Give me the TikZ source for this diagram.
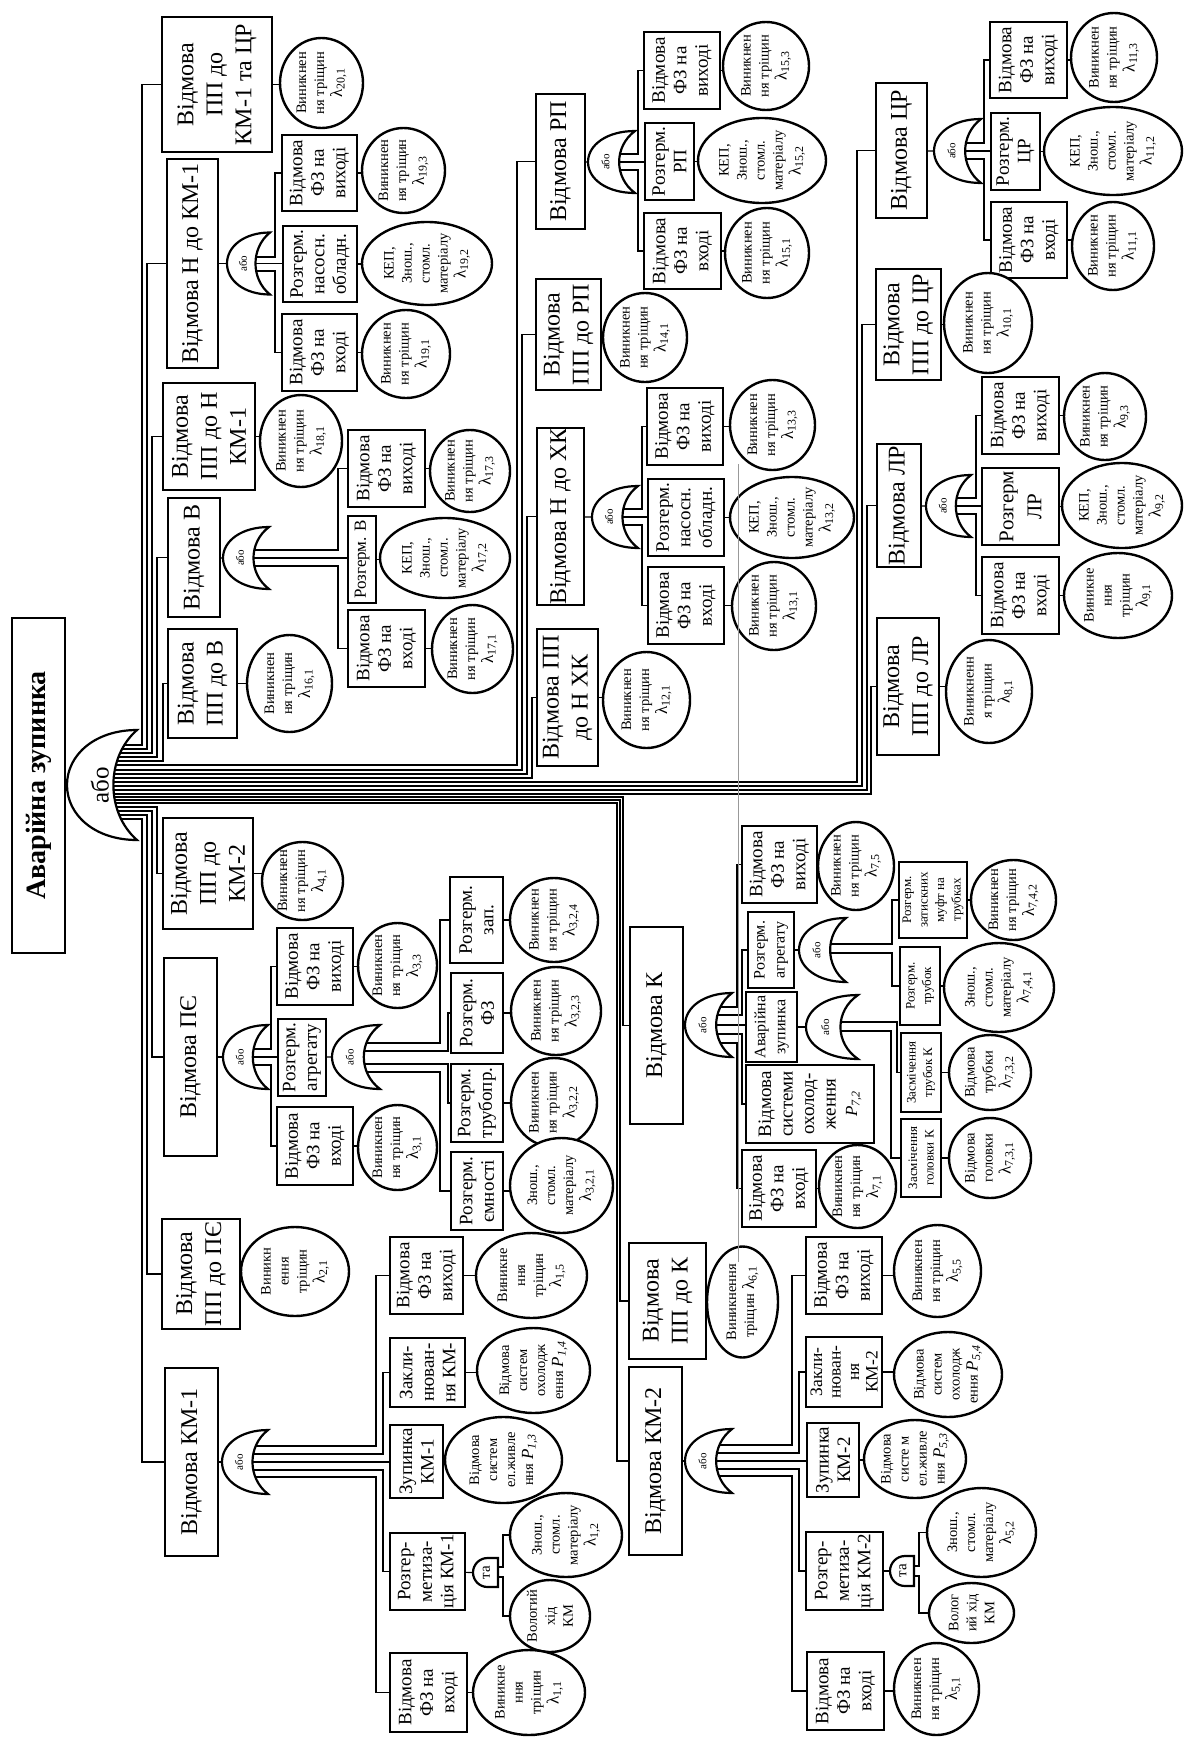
\documentclass[tikz,border=0pt]{standalone}
\usepackage{fontspec}
\setmainfont{Liberation Serif}
\usetikzlibrary{shapes.geometric,backgrounds}
\newcommand\fntRoot{\fontsize{28}{32}\selectfont\bfseries}
\newcommand\fntL{\fontsize{24}{29}\selectfont}
\newcommand\fntM{\fontsize{19}{21.5}\selectfont}
\newcommand\fntMB{\fontsize{17}{21.5}\selectfont}
\newcommand\fntMM{\fontsize{17.5}{18.5}\selectfont}
\newcommand\fntR{\fontsize{21}{28}\selectfont}
\newcommand\fntK{\fontsize{16}{20}\selectfont}
\newcommand\fntS{\fontsize{13}{16.5}\selectfont}
\newcommand\fntC{\fontsize{14.5}{18}\selectfont}
\newcommand\fntG{\fontsize{11}{12}\selectfont}
\newcommand\fntGR{\fontsize{25}{27}\selectfont}
\newcommand\fntT{\fontsize{15}{16}\selectfont}
\newcommand\lmb[1]{{\fontsize{17}{18}\selectfont λ\textsubscript{#1}}}
\newcommand\Pn[1]{{\fontsize{17}{18}\selectfont\textit{P}\textsubscript{\textit{#1}}}}
\tikzset{
 boxs/.style={rectangle, draw, line width=2.4pt, fill=white, inner sep=0pt, outer sep=0pt},
 ells/.style={ellipse, draw, line width=2.4pt, fill=white, inner sep=0pt, outer sep=0pt},
 txt/.style={rotate=90, align=center, inner sep=0pt},
 conn/.style={line width=1.2pt},
 gatest/.style={draw, fill=white, line width=2.2pt, line join=miter, miter limit=4},
 gtxt/.style={rotate=90, inner sep=0pt},
 scanline/.style={draw=black!40, line width=0.8pt}
}
\newcommand\mkBox[7]{%
 \node[boxs, minimum width={(#3-#2)*1pt}, minimum height={(#5-#4)*1pt}] (#1) at ({(#2+#3)/2},{(#4+#5)/2}) {};
 \node[txt, font=#6] (#1-t) at (#1.center) {#7};}
\newcommand\mkEl[7]{%
 \node[ells, minimum width={2*#4*1pt}, minimum height={2*#5*1pt}] (#1) at (#2,#3) {};
 \node[txt, font=#6] (#1-t) at (#1.center) {#7};}
\newcommand\mkOR[7]{%
 \path[gatest] ({#2+#4},{#3-#5}) .. controls ({#2+0.4*#4},{#3-#5}) and (#2,{#3-0.55*#5}) .. (#2,#3) .. controls (#2,{#3+0.55*#5}) and ({#2+0.4*#4},{#3+#5}) .. ({#2+#4},{#3+#5}) .. controls ({#2+0.55*#4},{#3+0.5*#5}) and ({#2+0.55*#4},{#3-0.5*#5}) .. ({#2+#4},{#3-#5}) -- cycle;
 \coordinate (#1-in) at (#2,#3);
 \coordinate (#1-out) at ({#2+0.6*#4},#3);
 \node[gtxt, font=#6] (#1) at ({#2+#7*#4},#3) {або};}
\newcommand\mkAND[5]{%
 \path[gatest] (#3,#4) -- ({#2+(#5-#4)/2},#4) .. controls ({#2+0.225*(#5-#4)},#4) and (#2,{(#4+#5)/2-0.275*(#5-#4)}) .. (#2,{(#4+#5)/2}) .. controls (#2,{(#4+#5)/2+0.275*(#5-#4)}) and ({#2+0.225*(#5-#4)},#5) .. ({#2+(#5-#4)/2},#5) -- (#3,#5) -- cycle;
 \coordinate (#1-in) at (#2,{(#4+#5)/2});
 \coordinate (#1-out) at (#3,{(#4+#5)/2});
 \node[gtxt, font=\fntT] (#1) at ({(#2+#3)/2+1},{(#4+#5)/2}) {та};}
\newcommand\busTo[4]{\draw[conn] (#1 |- 0,#2) -- (#3,#2) |- (#4);}
\newcommand\linkTo[2]{\draw[conn] (#1) -- (#1 -| #2);}
\newcommand\midTo[2]{\draw[conn] (#1-out) -- (#1-out -| #2);}
\newcommand\crk[1]{Виникнен\\ня тріщин\\\lmb{#1}}
\newcommand\kep[1]{КЕП,\\Знош.,\\стомл.\\матеріалу\\\lmb{#1}}
\newcommand\zns[1]{Знош.,\\стомл.\\матеріалу\\\lmb{#1}}
\begin{document}
\begin{tikzpicture}[x=1pt,y=-1pt]
\useasboundingbox (0,0) rectangle (1184,1740);
% root
\mkBox{root}{12}{65}{618}{953}{\fntRoot}{Аварійна зупинка}
\mkOR{G0}{67}{785}{70}{55}{\fntGR}{0.47}
% upper-left group
\mkBox{A20}{162}{272}{17}{152}{\fntL}{Відмова\\ПП до\\КМ-1 та ЦР}
\mkEl{c20}{321.5}{83}{41.5}{45}{\fntC}{\crk{20,1}}
\mkBox{A19}{167}{218}{159}{368}{\fntL}{Відмова Н до КМ-1}
\mkOR{G19}{227}{263.5}{43}{31}{\fntG}{0.37}
\mkBox{b19c}{282}{357}{135}{211}{\fntM}{Відмова\\ФЗ на\\виході}
\mkBox{b19b}{283}{357}{226}{302}{\fntM}{Розгерм.\\насосн.\\обладн.}
\mkBox{b19a}{282}{357}{314}{391}{\fntM}{Відмова\\ФЗ на\\вході}
\mkEl{c19c}{403.5}{170.5}{41.5}{42.5}{\fntC}{\crk{19,3}}
\mkEl{c19b}{427}{263.5}{65}{41.5}{\fntC}{\kep{19,2}}
\mkEl{c19a}{406}{354}{44}{44}{\fntC}{\crk{19,1}}
\mkBox{A18}{163}{255}{383}{490}{\fntL}{Відмова\\ПП до Н\\КМ-1}
\mkEl{c18}{301}{441}{41}{46}{\fntC}{\crk{18,1}}
\mkBox{A17}{168}{220}{498}{617}{\fntL}{Відмова В}
\mkOR{G17}{223}{558}{46}{31}{\fntG}{0.37}
\mkBox{b17c}{348}{425}{430}{507}{\fntM}{Відмова\\ФЗ на\\виході}
\mkBox{b17b}{348}{376}{516}{603}{\fntMB}{Розгерм. В}
\mkBox{b17a}{348}{425}{610}{687}{\fntM}{Відмова\\ФЗ на\\вході}
\mkEl{c17c}{470}{471}{40}{41}{\fntC}{\crk{17,3}}
\mkEl{c17b}{445}{558}{65}{40}{\fntC}{\kep{17,2}}
\mkEl{c17a}{472.5}{649}{40.5}{44}{\fntC}{\crk{17,1}}
\mkBox{A16}{168}{237}{629}{738}{\fntL}{Відмова\\ПП до В}
\mkEl{c16}{289.5}{683.5}{42.5}{48.5}{\fntC}{\crk{16,1}}
% group H XK
\mkBox{A15}{536}{585}{94}{229}{\fntL}{Відмова РП}
\mkOR{G15}{588}{162}{47}{31}{\fntG}{0.37}
\mkBox{b15c}{644}{720}{32}{109}{\fntM}{Відмова\\ФЗ на\\виході}
\mkBox{b15b}{645}{694}{123}{200}{\fntM}{Розгерм.\\РП}
\mkBox{b15a}{644}{721}{213}{289}{\fntM}{Відмова\\ФЗ на\\вході}
\mkEl{c15c}{766}{66}{43}{44}{\fntC}{\crk{15,3}}
\mkEl{c15b}{762}{160.5}{64}{42.5}{\fntC}{\kep{15,2}}
\mkEl{c15a}{767}{253}{42}{45}{\fntC}{\crk{15,1}}
\mkBox{A14}{536}{601}{279}{390}{\fntL}{Відмова\\ПП до РП}
\mkEl{c14}{645}{337.5}{42}{44.5}{\fntC}{\crk{14,1}}
\mkBox{A13}{537}{584}{428}{605}{\fntL}{Відмова Н до ХК}
\mkOR{G13}{592}{517}{46}{31}{\fntG}{0.37}
\mkBox{b13c}{647}{723}{388}{465}{\fntM}{Відмова\\ФЗ на\\виході}
\mkBox{b13b}{648}{724}{479}{556}{\fntM}{Розгерм.\\насосн.\\обладн.}
\mkBox{b13a}{648}{724}{567}{644}{\fntM}{Відмова\\ФЗ на\\вході}
\mkEl{c13c}{772.5}{425}{42.5}{45}{\fntC}{\crk{13,3}}
\mkEl{c13b}{792}{517.5}{62}{40.5}{\fntC}{\kep{13,2}}
\mkEl{c13a}{774}{606}{42}{44}{\fntC}{\crk{13,1}}
\mkBox{A12}{537}{598}{629}{766}{\fntL}{Відмова ПП\\до Н ХК}
\mkEl{c12}{646.5}{700}{43.5}{48}{\fntC}{\crk{12,1}}
% group LR
\mkBox{A11}{876}{927}{83}{218}{\fntL}{Відмова ЦР}
\mkOR{G11}{934}{151}{47}{32}{\fntG}{0.37}
\mkBox{b11c}{990}{1067}{22}{98}{\fntM}{Відмова\\ФЗ на\\виході}
\mkBox{b11b}{991}{1040}{113}{190}{\fntM}{Розгерм.\\ЦР}
\mkBox{b11a}{991}{1067}{202}{278}{\fntM}{Відмова\\ФЗ на\\вході}
\mkEl{c11c}{1114}{57.5}{43}{44.5}{\fntC}{\crk{11,3}}
\mkEl{c11b}{1113}{151}{69}{44}{\fntC}{\kep{11,2}}
\mkEl{c11a}{1113}{246}{41}{44}{\fntC}{\crk{11,1}}
\mkBox{A10}{876}{941}{269}{380}{\fntL}{Відмова\\ПП до ЦР}
\mkEl{c10}{988}{323}{44}{50}{\fntC}{\crk{10,1}}
\mkBox{A9}{877}{921}{444}{567}{\fntL}{Відмова ЛР}
\mkOR{G9}{926}{506}{45}{31}{\fntG}{0.37}
\mkBox{b9c}{982}{1059}{377}{454}{\fntM}{Відмова\\ФЗ на\\виході}
\mkBox{b9b}{982}{1059}{468}{545}{\fntR}{Розгерм\\ЛР}
\mkBox{b9a}{982}{1059}{557}{634}{\fntM}{Відмова\\ФЗ на\\вході}
\mkEl{c9c}{1105}{416.5}{41}{43.5}{\fntC}{\crk{9,3}}
\mkEl{c9b}{1122}{505.5}{60}{42.5}{\fntC}{\kep{9,2}}
\mkEl{c9a}{1118}{595.5}{54}{42.5}{\fntC}{Виникне\\ння\\тріщин\\\lmb{9,1}}
\mkBox{A8}{877}{939}{618}{755}{\fntL}{Відмова\\ПП до ЛР}
\mkEl{c8}{989}{691.5}{43}{51.5}{\fntC}{Виникненн\\я тріщин\\\lmb{8,1}}
% group K
\mkBox{A7}{630}{683}{927}{1124}{\fntL}{Відмова К}
\mkOR{G7}{685}{1025}{47}{32}{\fntG}{0.37}
\mkBox{b7e}{742}{817}{826}{903}{\fntM}{Відмова\\ФЗ на\\виході}
\mkBox{b7d}{748}{794}{912}{988}{\fntK}{Розгерм.\\агрегату}
\mkBox{b7c}{746}{797}{992}{1062}{\fntK}{Аварійна\\зупинка}
\mkBox{b7b}{746}{874}{1065}{1143}{\fntM}{Відмова\\системи\\охолод-\\ження\\\Pn{7,2}}
\mkBox{b7a}{742}{816}{1150}{1227}{\fntM}{Відмова\\ФЗ на\\вході}
\mkEl{c7e}{856}{866}{38}{44}{\fntC}{\crk{7,5}}
\mkEl{c7a}{857.5}{1186.5}{38.5}{41.5}{\fntC}{\crk{7,1}}
\mkOR{G74}{799}{950}{47}{32}{\fntG}{0.37}
\mkBox{b74b}{899}{967}{862}{938}{\fntS}{Розгерм.\\затискних\\муфт на\\трубках}
\mkBox{b74a}{900}{940}{947}{1025}{\fntS}{Розгерм.\\трубок}
\mkEl{c74b}{1013.5}{900}{42.5}{40}{\fntC}{\crk{7,4,2}}
\mkEl{c74a}{999}{987.5}{55}{44.5}{\fntC}{\zns{7,4,1}}
\mkOR{G73}{806}{1027}{52}{32}{\fntG}{0.37}
\mkBox{b73b}{901}{941}{1033}{1112}{\fntS}{Засмічення\\трубок К}
\mkBox{b73a}{901}{941}{1119}{1197}{\fntS}{Засмічення\\головки К}
\mkEl{c73b}{990}{1072.5}{41}{37.5}{\fntC}{Відмова\\трубки\\\lmb{7,3,2}}
\mkEl{c73a}{990}{1158}{41}{40}{\fntC}{Відмова\\головки\\\lmb{7,3,1}}
\mkBox{A6}{629}{706}{1243}{1359}{\fntL}{Відмова\\ПП до К}
\mkEl{c6}{742.5}{1302}{35.5}{55.5}{\fntC}{Виникнення\\тріщин \lmb{6,1}}
\mkBox{A5}{629}{682}{1367}{1555}{\fntL}{Відмова КМ-2}
\mkOR{G5}{685}{1461}{47}{32}{\fntG}{0.37}
\mkBox{b5e}{806}{882}{1237}{1314}{\fntM}{Відмова\\ФЗ на\\виході}
\mkBox{b5d}{806}{882}{1337}{1407}{\fntMM}{Закли-\\нюван-\\ня\\КМ-2}
\mkBox{b5c}{807}{859}{1423}{1497}{\fntM}{Зупинка\\КМ-2}
\mkBox{b5b}{806}{883}{1532}{1610}{\fntM}{Розгер-\\метиза-\\ція КМ-2}
\mkBox{b5a}{807}{884}{1652}{1730}{\fntM}{Відмова\\ФЗ на\\вході}
\mkEl{c5e}{937.5}{1271}{43.5}{46}{\fntC}{\crk{5,5}}
\mkEl{c5d}{948}{1374.5}{54}{42.5}{\fntC}{Відмова\\систем\\охолодж\\ення \Pn{5,4}}
\mkEl{c5c}{915}{1459}{51}{39}{\fntC}{Відмова\\систе м\\ел.живле\\ння \Pn{5,3}}
\mkAND{N5}{890}{914}{1556}{1586}
\mkEl{c5b}{981.5}{1532.5}{54.5}{44.5}{\fntC}{\zns{5,2}}
\mkEl{c5v}{971.5}{1613}{42.5}{30}{\fntC}{Волог\\ий хід\\КМ}
\mkEl{c5a}{936.5}{1689}{42.5}{46}{\fntC}{\crk{5,1}}
% lower-left group
\mkBox{A4}{163}{253}{818}{929}{\fntL}{Відмова\\ПП до\\КМ-2}
\mkEl{c4}{302.5}{881}{40.5}{39}{\fntC}{\crk{4,1}}
\mkBox{A3}{164}{217}{958}{1156}{\fntL}{Відмова ПЄ}
\mkOR{G3}{223}{1057}{45}{32}{\fntG}{0.37}
\mkBox{b3c}{277}{353}{928}{1005}{\fntM}{Відмова\\ФЗ на\\виході}
\mkBox{b3b}{278}{326}{1019}{1096}{\fntM}{Розгерм.\\агрегату}
\mkBox{b3a}{277}{353}{1107}{1185}{\fntM}{Відмова\\ФЗ на\\вході}
\mkEl{c3c}{397.5}{965.5}{39.5}{42.5}{\fntC}{\crk{3,3}}
\mkEl{c3a}{397.5}{1147.5}{39.5}{42.5}{\fntC}{\crk{3,1}}
\mkOR{G32}{332}{1057}{48}{32}{\fntG}{0.37}
\mkBox{b32d}{450}{503}{877}{963}{\fntM}{Розгерм.\\зап.}
\mkBox{b32c}{451}{503}{973}{1053}{\fntM}{Розгерм.\\ФЗ}
\mkBox{b32b}{451}{503}{1064}{1142}{\fntM}{Розгерм.\\трубопр.}
\mkBox{b32a}{451}{503}{1152}{1230}{\fntM}{Розгерм.\\ємності}
\mkEl{c32d}{554}{920}{44}{42}{\fntC}{\crk{3,2,4}}
\mkEl{c32c}{556}{1011}{45}{44}{\fntC}{\crk{3,2,3}}
\mkEl{c32b}{554}{1102.5}{43}{44.5}{\fntC}{\crk{3,2,2}}
\mkEl{c32a}{561.5}{1185.5}{51.5}{47.5}{\fntC}{\zns{3,2,1}}
\mkBox{A2}{162}{240}{1219}{1329}{\fntL}{Відмова\\ПП до ПЄ}
\mkEl{c2}{295}{1271.5}{54}{44.5}{\fntC}{Виникн\\ення\\тріщин\\\lmb{2,1}}
\mkBox{A1}{165}{218}{1368}{1556}{\fntL}{Відмова КМ-1}
\mkOR{G1}{222}{1462}{46}{32}{\fntG}{0.37}
\mkBox{b1e}{390}{463}{1237}{1314}{\fntM}{Відмова\\ФЗ на\\виході}
\mkBox{b1d}{390}{465}{1338}{1407}{\fntM}{Закли-\\нюван-\\ня КМ-}
\mkBox{b1c}{390}{443}{1425}{1498}{\fntM}{Зупинка\\КМ-1}
\mkBox{b1b}{390}{465}{1533}{1610}{\fntM}{Розгер-\\метиза-\\ція КМ-1}
\mkBox{b1a}{390}{467}{1653}{1732}{\fntM}{Відмова\\ФЗ на\\вході}
\mkEl{c1e}{531.5}{1275.5}{55.5}{42.5}{\fntC}{Виникне\\ння\\тріщин\\\lmb{1,5}}
\mkEl{c1d}{533.5}{1370.5}{56.5}{42.5}{\fntC}{Відмова\\систем\\охолодж\\ення \Pn{1,4}}
\mkEl{c1c}{503.5}{1460}{58.5}{43}{\fntC}{Відмова\\систем\\ел.живле\\ння \Pn{1,3}}
\mkAND{N1}{473}{498}{1558}{1587}
\mkEl{c1b}{566}{1535}{56}{42}{\fntC}{\zns{1,2}}
\mkEl{c1v}{550}{1616}{40}{36}{\fntC}{Вологий\\хід\\КМ}
\mkEl{c1a}{529}{1692.5}{56}{42.5}{\fntC}{Виникне\\ння\\тріщин\\\lmb{1,1}}
% scan line
\draw[scanline] (738,464) -- (738,1262);
\begin{scope}[on background layer]
\fill[white] (0,0) rectangle (1184,1740);
\draw[conn] (root) -- (G0-in);
\busTo{G0-out}{745}{142}{A20}
\busTo{G0-out}{749}{147}{A19}
\busTo{G0-out}{753}{152}{A18}
\busTo{G0-out}{757}{157}{A17}
\busTo{G0-out}{761}{163}{A16}
\busTo{G0-out}{765}{517}{A15}
\busTo{G0-out}{770}{522}{A14}
\busTo{G0-out}{774}{527}{A13}
\busTo{G0-out}{778}{532}{A12}
\busTo{G0-out}{782}{857}{A11}
\busTo{G0-out}{786}{862}{A10}
\busTo{G0-out}{790}{867}{A9}
\busTo{G0-out}{794}{871}{A8}
\busTo{G0-out}{797}{623}{A7}
\busTo{G0-out}{800}{620}{A6}
\busTo{G0-out}{803}{617}{A5}
\busTo{G0-out}{807}{157}{A4}
\busTo{G0-out}{811}{152}{A3}
\busTo{G0-out}{815}{147}{A2}
\busTo{G0-out}{819}{142}{A1}
% leaves of level 1
\linkTo{A20}{c20}\linkTo{A18}{c18}\linkTo{A16}{c16}\linkTo{A14}{c14}
\linkTo{A12}{c12}\linkTo{A10}{c10}\linkTo{A8}{c8}\linkTo{A6}{c6}
\linkTo{A4}{c4}\linkTo{A2}{c2}
% A19
\draw[conn] (A19) -- (G19-in);
\busTo{G19-out}{257}{275}{b19c}\midTo{G19}{b19b}\busTo{G19-out}{271}{275}{b19a}
\linkTo{b19c}{c19c}\linkTo{b19b}{c19b}\linkTo{b19a}{c19a}
% A17
\draw[conn] (A17) -- (G17-in);
\busTo{G17-out}{550}{338}{b17c}\midTo{G17}{b17b}\busTo{G17-out}{566}{338}{b17a}
\linkTo{b17c}{c17c}\linkTo{b17b}{c17b}\linkTo{b17a}{c17a}
% A15
\draw[conn] (A15) -- (G15-in);
\busTo{G15-out}{154}{638}{b15c}\midTo{G15}{b15b}\busTo{G15-out}{170}{638}{b15a}
\linkTo{b15c}{c15c}\linkTo{b15b}{c15b}\linkTo{b15a}{c15a}
% A13
\draw[conn] (A13) -- (G13-in);
\busTo{G13-out}{509}{642}{b13c}\midTo{G13}{b13b}\busTo{G13-out}{525}{642}{b13a}
\linkTo{b13c}{c13c}\linkTo{b13b}{c13b}\linkTo{b13a}{c13a}
% A11
\draw[conn] (A11) -- (G11-in);
\busTo{G11-out}{143}{984}{b11c}\midTo{G11}{b11b}\busTo{G11-out}{159}{984}{b11a}
\linkTo{b11c}{c11c}\linkTo{b11b}{c11b}\linkTo{b11a}{c11a}
% A9
\draw[conn] (A9) -- (G9-in);
\busTo{G9-out}{498}{976}{b9c}\midTo{G9}{b9b}\busTo{G9-out}{514}{976}{b9a}
\linkTo{b9c}{c9c}\linkTo{b9b}{c9b}\linkTo{b9a}{c9a}
% A7
\draw[conn] (A7) -- (G7-in);
\busTo{G7-out}{1007}{737}{b7e}\busTo{G7-out}{1015}{742}{b7d}\midTo{G7}{b7c}
\busTo{G7-out}{1034}{742}{b7b}\busTo{G7-out}{1043}{737}{b7a}
\linkTo{b7e}{c7e}\linkTo{b7a}{c7a}
\draw[conn] (b7d) -- (G74-in);
\busTo{G74-out}{944}{892}{b74b}\busTo{G74-out}{953}{892}{b74a}
\linkTo{b74b}{c74b}\linkTo{b74a}{c74a}
\draw[conn] (b7c) -- (G73-in);
\busTo{G73-out}{1022}{897}{b73b}\busTo{G73-out}{1031}{891}{b73a}
\linkTo{b73b}{c73b}\linkTo{b73a}{c73a}
% A5
\draw[conn] (A5) -- (G5-in);
\busTo{G5-out}{1445}{792}{b5e}\busTo{G5-out}{1453}{799}{b5d}\midTo{G5}{b5c}
\busTo{G5-out}{1469}{799}{b5b}\busTo{G5-out}{1476}{792}{b5a}
\linkTo{b5e}{c5e}\linkTo{b5d}{c5d}\linkTo{b5c}{c5c}\linkTo{b5a}{c5a}
\draw[conn] (b5b) -- (N5-in);
\busTo{N5-out}{1566}{919}{c5b}\busTo{N5-out}{1576}{919}{c5v}
% A3
\draw[conn] (A3) -- (G3-in);
\busTo{G3-out}{1049}{271}{b3c}\midTo{G3}{b3b}\busTo{G3-out}{1065}{271}{b3a}
\linkTo{b3c}{c3c}\linkTo{b3a}{c3a}
\draw[conn] (b3b) -- (G32-in);
\busTo{G32-out}{1043}{440}{b32d}\busTo{G32-out}{1051}{448}{b32c}
\busTo{G32-out}{1064}{448}{b32b}\busTo{G32-out}{1072}{440}{b32a}
\linkTo{b32d}{c32d}\linkTo{b32c}{c32c}\linkTo{b32b}{c32b}\linkTo{b32a}{c32a}
% A1
\draw[conn] (A1) -- (G1-in);
\busTo{G1-out}{1446}{376}{b1e}\busTo{G1-out}{1454}{383}{b1d}\midTo{G1}{b1c}
\busTo{G1-out}{1470}{383}{b1b}\busTo{G1-out}{1477}{376}{b1a}
\linkTo{b1e}{c1e}\linkTo{b1d}{c1d}\linkTo{b1c}{c1c}\linkTo{b1a}{c1a}
\draw[conn] (b1b) -- (N1-in);
\busTo{N1-out}{1567}{503}{c1b}\busTo{N1-out}{1577}{503}{c1v}
\end{scope}
\end{tikzpicture}
\end{document}
